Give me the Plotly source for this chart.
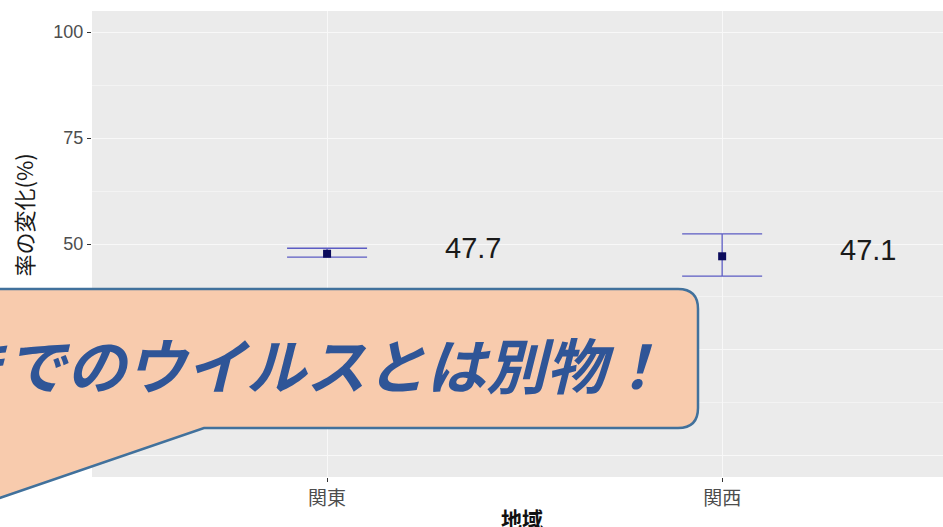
import plotly.graph_objects as go

# ---- data ----
regions = ["関東", "関西"]
region_pos = [1, 2]
means = [47.7, 47.1]
lower = [46.9, 42.4]
upper = [49.0, 52.4]
labels = ["47.7", "47.1"]
y_ticks = [0, 25, 50, 75, 100]
callout_text = "これまでのウイルスとは別物！"
y_title = "率の変化(%)"
x_title = "地域"

W, H = 943, 527
L, T, R, B = 92, 11, 0, 50
pw, ph = W - L - R, H - T - B


def px(x):
    return (x - L) / pw


def py(y):
    return (H - B - y) / ph


fig = go.Figure()

fig.add_trace(go.Scatter(
    x=region_pos, y=means, mode="markers",
    marker=dict(symbol="square", size=8, color="#0B0B5C"),
    error_y=dict(type="data", symmetric=False,
                 array=[u - m for u, m in zip(upper, means)],
                 arrayminus=[m - l for m, l in zip(means, lower)],
                 color="#5C5CC4", thickness=1.3, width=40),
    showlegend=False, hoverinfo="skip"))

for p, m, t in zip(region_pos, means, labels):
    fig.add_annotation(
        x=p + 0.37, y=m, text=t, showarrow=False, yshift=6,
        xanchor="center", yanchor="middle",
        font=dict(family="Liberation Sans, Arial", size=29, color="#1a1a1a"))

# callout bubble
path = "M {} {} L {} {} Q {} {} {} {} L {} {} Q {} {} {} {} L {} {} L {} {} L {} {} Z".format(
    px(-40), py(289), px(678), py(289),
    px(698), py(289), px(698), py(309),
    px(698), py(408),
    px(698), py(428), px(678), py(428),
    px(204), py(428),
    px(-12), py(502),
    px(-40), py(502))
fig.add_shape(type="path", path=path, xref="paper", yref="paper",
              fillcolor="#F8CBAD", line=dict(color="#41719C", width=2.5),
              layer="above")

fig.add_annotation(
    text=callout_text, xref="paper", yref="paper",
    x=px(668), y=py(362), xanchor="right", yanchor="middle",
    showarrow=False,
    font=dict(family="Noto Sans CJK JP", size=60, color="#2F5597",
              weight="bold", style="italic"))

fig.add_annotation(
    text=y_title, xref="paper", yref="paper",
    x=px(22), y=py(152), xanchor="center", yanchor="top",
    textangle=-90, showarrow=False,
    font=dict(family="Noto Sans CJK JP", size=22, color="#1a1a1a"))

fig.add_annotation(
    text=x_title, xref="paper", yref="paper",
    x=px(522), y=py(518), xanchor="center", yanchor="middle",
    showarrow=False,
    font=dict(family="Noto Sans CJK JP", size=21, color="#111111",
              weight="bold"))

fig.update_layout(
    width=W, height=H,
    margin=dict(l=L, r=R, t=T, b=B, pad=0),
    paper_bgcolor="white", plot_bgcolor="#EBEBEB",
    xaxis=dict(range=[0.405, 2.559], tickvals=region_pos, ticktext=regions,
               showgrid=True, gridcolor="#F8F8F8", gridwidth=1.2,
               zeroline=False, ticks="outside", ticklen=4,
               tickcolor="#333333",
               tickfont=dict(family="Noto Sans CJK JP", size=19,
                             color="#4D4D4D"),
               showline=False),
    yaxis=dict(range=[-5, 105], tickvals=y_ticks,
               showgrid=True, gridcolor="#F8F8F8", gridwidth=1.2,
               minor=dict(dtick=12.5, tick0=0, showgrid=True,
                          gridcolor="#F3F3F3", gridwidth=0.6),
               zeroline=False, ticks="outside", ticklen=4,
               tickcolor="#333333",
               tickfont=dict(family="Liberation Sans, Arial", size=18,
                             color="#4D4D4D"),
               showline=False),
)

fig.write_html("out.html",
               config={"displayModeBar": False},
               post_script="document.body.style.margin='0';"
                           "document.body.style.overflow='hidden';")
